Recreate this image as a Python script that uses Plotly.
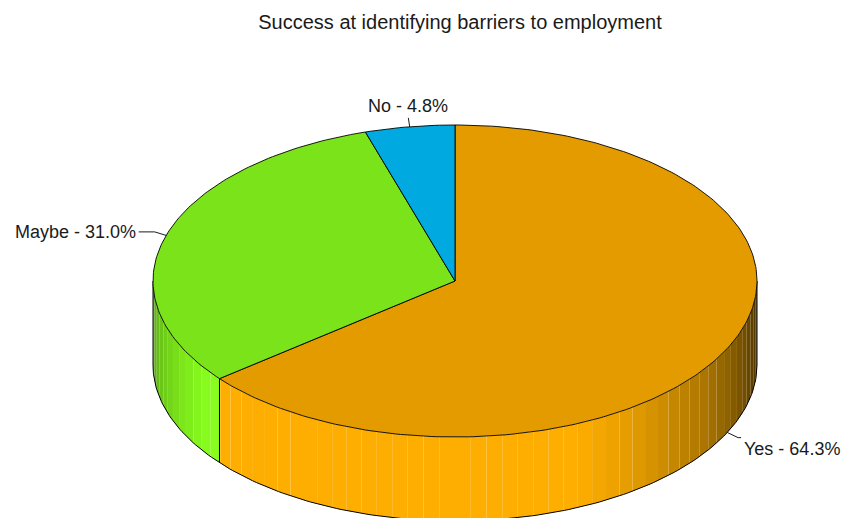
import numpy as np
import plotly.graph_objects as go

# ---- data ----
categories = ["Yes", "Maybe", "No"]
values = [64.3, 31.0, 4.8]
slice_colors = ["#E39B00", "#7AE31A", "#00AAE0"]
chart_title = "Success at identifying barriers to employment"

# ---- geometry / style (layout constants, not data) ----
W, H = 845, 518
CX, CY, RX, RY, DEPTH = 455, 281, 302, 156, 84
FONT = "Liberation Sans, Arial, sans-serif"
STEP = 3.0


def hex_rgb(h):
    h = h.lstrip("#")
    return [int(h[i:i + 2], 16) for i in (0, 2, 4)]


def shade(hexcol, k):
    r, g, b = [min(255, int(round(c * k))) for c in hex_rgb(hexcol)]
    return f"rgb({r},{g},{b})"


def light(theta):
    k = 0.48 + 0.82 * np.cos(np.radians(theta - 195))
    return max(0.2, min(1.12, k))


def pt(theta, dz=0.0):
    t = np.radians(theta)
    return CX + RX * np.sin(t), CY - RY * np.cos(t) + dz


def arc(a, b, dz=0.0, n=None):
    if n is None:
        n = max(2, int(abs(b - a) / 1.0) + 2)
    th = np.linspace(a, b, n)
    xs, ys = pt(th, dz)
    return list(xs), list(ys)


total = sum(values)
angles = [v / total * 360 for v in values]
starts = list(np.cumsum([0] + angles[:-1]))
ends = list(np.cumsum(angles))

fig = go.Figure()

# ---- side wall (front half only) ----
for cat, s, e, col in zip(categories, starts, ends, slice_colors):
    lo, hi = max(s, 90), min(e, 270)
    if lo >= hi:
        continue
    grid = [lo] + [g for g in np.arange(90, 270 + STEP, STEP) if lo < g < hi] + [hi]
    for a, b in zip(grid[:-1], grid[1:]):
        tx, ty = arc(a, b)
        bx, by = arc(b, a, DEPTH)
        fig.add_trace(go.Scatter(
            x=tx + bx + [tx[0]], y=ty + by + [ty[0]], mode="lines",
            fill="toself", fillcolor=shade(col, light((a + b) / 2)),
            line=dict(width=0), hoverinfo="skip", showlegend=False))

# side outlines
bx, by = arc(90, 270, DEPTH, 200)
fig.add_trace(go.Scatter(x=bx, y=by, mode="lines", line=dict(color="black", width=1),
                         hoverinfo="skip", showlegend=False))
edges = [90, 270] + [s for s in starts if 90 < s < 270]
for th in edges:
    x0, y0 = pt(th)
    x1, y1 = pt(th, DEPTH)
    fig.add_trace(go.Scatter(x=[x0, x1], y=[y0, y1], mode="lines",
                             line=dict(color="black", width=1),
                             hoverinfo="skip", showlegend=False))

# ---- top face ----
for cat, s, e, col in zip(categories, starts, ends, slice_colors):
    ax, ay = arc(s, e)
    fig.add_trace(go.Scatter(
        x=[CX] + ax + [CX], y=[CY] + ay + [CY], mode="lines",
        fill="toself", fillcolor=col, line=dict(color="black", width=0.9),
        hoverinfo="skip", showlegend=False))

# ---- labels with leader lines ----
annotations = []
for cat, v, s, e in zip(categories, values, starts, ends):
    m = (s + e) / 2
    sn, cs = np.sin(np.radians(m)), np.cos(np.radians(m))
    front = 90 < m < 270
    ax0, ay0 = pt(m, DEPTH if front else 0)
    L = 12 if abs(sn) > 0.4 else 9
    x1, y1 = ax0 + L * sn, ay0 - L * cs
    xs, ys = [ax0, x1], [ay0, y1]
    if abs(sn) > 0.4:
        ext = 16 if sn < 0 else 3
        x2 = x1 + (ext if sn > 0 else -ext)
        xs.append(x2)
        ys.append(y1)
        x1 = x2
    fig.add_trace(go.Scatter(x=xs, y=ys, mode="lines", line=dict(color="black", width=0.9),
                             hoverinfo="skip", showlegend=False))
    text = f"{cat} - {v:.1f}%"
    if abs(sn) <= 0.4:
        annotations.append(dict(x=x1, y=y1 - 1, text=text, xanchor="center",
                                yanchor="bottom" if cs > 0 else "top"))
    elif sn > 0:
        annotations.append(dict(x=x1 + 2, y=y1, text=text, xanchor="left",
                                yanchor="top" if cs < 0 else "middle"))
    else:
        annotations.append(dict(x=x1 - 2, y=y1, text=text, xanchor="right",
                                yanchor="top" if cs < 0 else "middle"))

for a in annotations:
    a.update(xref="x", yref="y", showarrow=False, borderpad=0,
             font=dict(family=FONT, size=18, color="#1a1a1a"))

fig.update_layout(
    width=W, height=H,
    margin=dict(l=0, r=0, t=0, b=0),
    paper_bgcolor="white", plot_bgcolor="white",
    title=dict(text=chart_title, x=460 / W, xanchor="center", xref="paper",
               y=1 - 22 / H, yanchor="middle", yref="container",
               font=dict(family=FONT, size=20, color="#1a1a1a")),
    xaxis=dict(range=[0, W], visible=False, fixedrange=True),
    yaxis=dict(range=[H, 0], visible=False, fixedrange=True),
    annotations=annotations,
    showlegend=False,
)

fig.write_html("out.html", config={"displayModeBar": False},
               post_script="document.body.style.margin='0';document.body.style.overflow='hidden';")
